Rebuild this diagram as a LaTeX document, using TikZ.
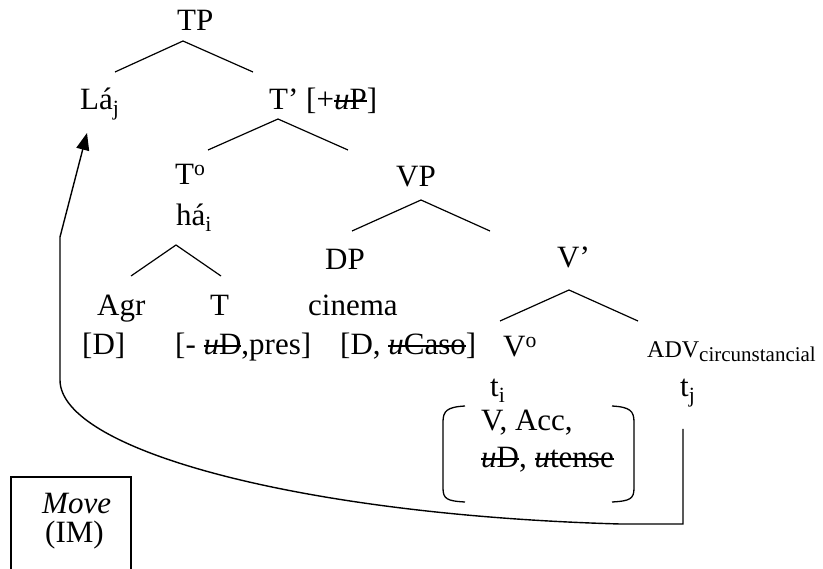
\documentclass[tikz,border=0pt]{standalone}
\usepackage{fontspec}
\setmainfont{Liberation Serif}
\usetikzlibrary{arrows.meta}

% struck-out feature
\newsavebox{\strkbox}
\newcommand{\strk}[1]{\sbox{\strkbox}{#1}\rlap{\rule[0.27em]{\wd\strkbox}{0.05em}}\usebox{\strkbox}}

\tikzset{
	lbl/.style={anchor=base west, inner sep=0pt, font=\fontsize{31}{37}\selectfont},
	smalllbl/.style={lbl, font=\fontsize{24}{28}\selectfont},
	branch/.style={line width=1.2pt},
}

\begin{document}
\begin{tikzpicture}[x=1pt,y=-1pt]
	\useasboundingbox (0,0) rectangle (823,569);

	% Nodes of the tree
	\node[lbl] (tp) at (177,31) {TP};
	\node[lbl] (la) at (80,110) {Lá\textsubscript{j}};
	\node[lbl] (tbar) at (269,110) {T' [+\strk{\textit{u}P}]};
	\node[lbl] (to) at (175,185) {T\textsuperscript{o}};
	\node[lbl] (vp) at (396,187) {VP};
	\node[lbl] (ha) at (176,226) {há\textsubscript{i}};
	\node[lbl] (dp) at (325,270) {DP};
	\node[lbl] (vbar) at (557,268) {V'};
	\node[lbl] (agr) at (97,316) {Agr};
	\node[lbl] (t) at (210,316) {T};
	\node[lbl] (cinema) at (308,316) {cinema};
	\node[lbl] (agrf) at (82,355) {[D]};
	\node[lbl] (tf) at (175,355) {[- \strk{\textit{u}D},pres]};
	\node[lbl] (cinemaf) at (340,355) {[D, \strk{\textit{u}Caso}]};
	\node[lbl] (vo) at (503,357) {V\textsuperscript{o}};
	\node[smalllbl] (adv) at (647,358) {ADV\raisebox{-4pt}{\fontsize{21}{24}\selectfont circunstancial}};
	\node[lbl] (ti) at (490,397) {t\textsubscript{i}};
	\node[lbl] (tj) at (680,397) {t\textsubscript{j}};
	\node[lbl] (vfa) at (481,431) {V, Acc,};
	\node[lbl] (vfb) at (481,468) {\strk{\textit{u}D}, \strk{\textit{u}tense}};

	% Branches
	%TP
	\draw[branch] (115,72) -- (183,41) -- (253,72);
	%T'
	\draw[branch] (208,150) -- (278,119) -- (348,150);
	%VP
	\draw[branch] (352,231) -- (421,200) -- (490,231);
	%ha
	\draw[branch] (131,276) -- (176,245) -- (221,276);
	%V'
	\draw[branch] (500,321) -- (569,290) -- (638,321);

	% Feature brackets of V
	\draw[line width=1.3pt] (465,406) .. controls (447,407) and (443,411) .. (443,422) -- (443,488) .. controls (443,499) and (447,501) .. (465,502);
	\draw[line width=1.3pt] (612,406) .. controls (630,407) and (634,411) .. (634,422) -- (634,488) .. controls (634,499) and (630,501) .. (612,502);

	% Movement of the adverb
	\coordinate (movestart) at (683,429);
	\coordinate (movetip) at (87,133);
	\draw[line width=1.4pt, -{Triangle[length=17pt,width=13pt]}] (movestart) -- (683,524) -- (620,524)
		.. controls (300,515) and (60,450) .. (60,380) -- (60,237) -- (movetip);

	% Move box
	\draw[line width=1.4pt] (11,569) -- (11,477) -- (131,477) -- (131,569);
	\node[lbl] (move) at (42,514) {\textit{Move}};
	\node[lbl] (im) at (45,543) {(IM)};

\end{tikzpicture}
\end{document}
